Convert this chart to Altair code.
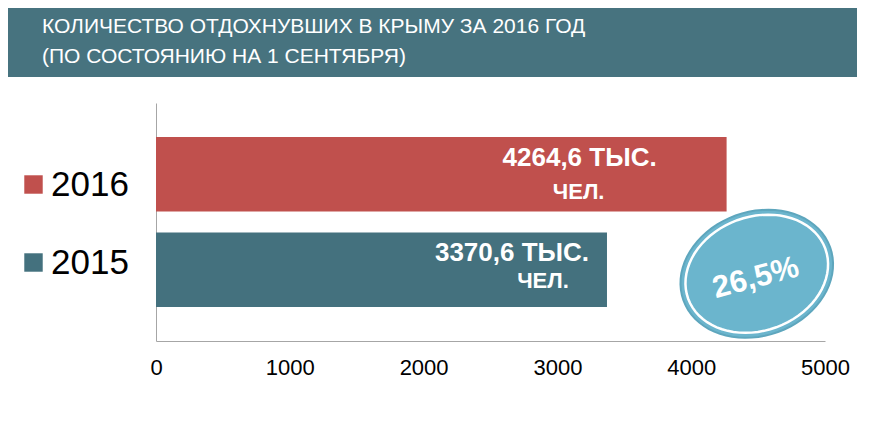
import math
import altair as alt
import pandas as pd

# ---- data ----
years = ["2016", "2015"]
values = [4264.6, 3370.6]
label_line1 = ["4264,6 ТЫС.", "3370,6 ТЫС."]
label_line2 = ["ЧЕЛ.", "ЧЕЛ."]
axis_ticks = [0, 1000, 2000, 3000, 4000, 5000]
title_lines = ["КОЛИЧЕСТВО ОТДОХНУВШИХ В КРЫМУ ЗА 2016 ГОД",
               "(ПО СОСТОЯНИЮ НА 1 СЕНТЯБРЯ)"]
growth_label = ["26,5%"]
growth_anchor_value = [4490]

# ---- style ----
RED = "#C0504D"
TEAL = "#44717E"
BANNER = "#47737F"
BUBBLE = "#6BB5CD"
FONT = "Liberation Sans"
W, H = 669, 238

# per-bar label offsets (style, px): (dx1, dy1, dx2, dy2)
label_offsets = {"2016": (-147, -16, -148, 18), "2015": (-95, -17, -64, 11)}


def ellipse_path(a, b, deg, cy=0.0, n=72):
    """Tilted ellipse outline in symbol unit coordinates (shape only)."""
    t = math.radians(deg)
    pts = []
    for k in range(n):
        p = 2 * math.pi * k / n
        x, y = a * math.cos(p), b * math.sin(p)
        xr = x * math.cos(t) - y * math.sin(t)
        yr = x * math.sin(t) + y * math.cos(t) + cy
        pts.append(f"{xr:.4f},{yr:.4f}")
    return "M" + "L".join(pts) + "Z"


UNIT = 80.0  # px per symbol unit
SIZE = (2 * UNIT) ** 2
OUTER = ellipse_path(78 / UNIT, 62 / UNIT, -20, cy=4 / UNIT)
INNER = ellipse_path(73 / UNIT, 57 / UNIT, -20, cy=4 / UNIT)

df = pd.DataFrame({"year": years, "value": values,
                   "l1": label_line1, "l2": label_line2})

xscale = alt.Scale(domain=[0, 5000], nice=False)
yscale = alt.Scale(domain=years, paddingInner=0.22, paddingOuter=0.356)

base = alt.Chart(df)

bars = base.mark_bar().encode(
    x=alt.X("value:Q", scale=xscale,
            axis=alt.Axis(values=axis_ticks, format="d", title=None, grid=False,
                          ticks=False, labelFontSize=22, labelColor="#000",
                          labelPadding=16, domainColor="#A6A6A6", labelFont=FONT,
                          labelFlush=False)),
    y=alt.Y("year:N", scale=yscale, sort=years,
            axis=alt.Axis(title=None, labels=False, ticks=False, grid=False,
                          domainColor="#A6A6A6")),
    color=alt.Color("year:N", sort=years,
                    scale=alt.Scale(domain=years, range=[RED, TEAL]),
                    legend=alt.Legend(title=None, orient="none", legendX=-140, legendY=64,
                                      symbolType="square", symbolSize=340,
                                      symbolStrokeWidth=0, labelFontSize=35,
                                      labelFont=FONT, labelColor="#000",
                                      labelOffset=0, rowPadding=42, padding=0)),
)

layers = [bars]
for yr in years:
    dx1, dy1, dx2, dy2 = label_offsets[yr]
    sub = base.transform_filter(alt.datum.year == yr)
    layers.append(sub.mark_text(align="center", baseline="middle", dx=dx1, dy=dy1,
                                fontSize=26, fontWeight="bold", color="white", font=FONT)
                  .encode(x="value:Q", y=alt.Y("year:N", sort=years), text="l1:N"))
    layers.append(sub.mark_text(align="center", baseline="middle", dx=dx2, dy=dy2,
                                fontSize=22, fontWeight="bold", color="white", font=FONT)
                  .encode(x="value:Q", y=alt.Y("year:N", sort=years), text="l2:N"))

gdf = pd.DataFrame({"g": growth_label, "v": growth_anchor_value, "year": ["2015"]})
gbase = alt.Chart(gdf)
bubble = gbase.mark_point(shape=OUTER, size=SIZE, filled=True, fill=BUBBLE,
                          stroke="#5EA6BD", strokeWidth=2, opacity=1).encode(
    x="v:Q", y=alt.Y("year:N", sort=years))
ring = gbase.mark_point(shape=INNER, size=SIZE, filled=False,
                        stroke="white", strokeWidth=2.5, opacity=1).encode(
    x="v:Q", y=alt.Y("year:N", sort=years))
gtext = gbase.mark_text(angle=345, fontSize=31, fontWeight="bold", color="white",
                        font=FONT, dx=-3, dy=8, align="center", baseline="middle").encode(
    x="v:Q", y=alt.Y("year:N", sort=years), text="g:N")

tdf = pd.DataFrame({"t": title_lines})
banner = alt.Chart(tdf).transform_filter(alt.datum.t == title_lines[0]).mark_rect(
    color=BANNER).encode(x=alt.value(-148), x2=alt.value(701),
                         y=alt.value(-95), y2=alt.value(-26))
t1 = alt.Chart(tdf).transform_filter(alt.datum.t == title_lines[0]).mark_text(
    align="left", baseline="middle", fontSize=21, color="white", font=FONT).encode(
    x=alt.value(-114), y=alt.value(-76), text="t:N")
t2 = alt.Chart(tdf).transform_filter(alt.datum.t == title_lines[1]).mark_text(
    align="left", baseline="middle", fontSize=21, color="white", font=FONT).encode(
    x=alt.value(-114), y=alt.value(-46), text="t:N")

chart = alt.layer(banner, t1, t2, *layers, bubble, ring, gtext).properties(
    width=W, height=H,
    autosize=alt.AutoSizeParams(type="none"),
    padding={"left": 148, "top": 95, "right": 32, "bottom": 70},
    background="white",
).configure(font=FONT).configure_view(strokeWidth=0)

chart.save("out.html", embed_options={"renderer": "svg", "actions": False})
